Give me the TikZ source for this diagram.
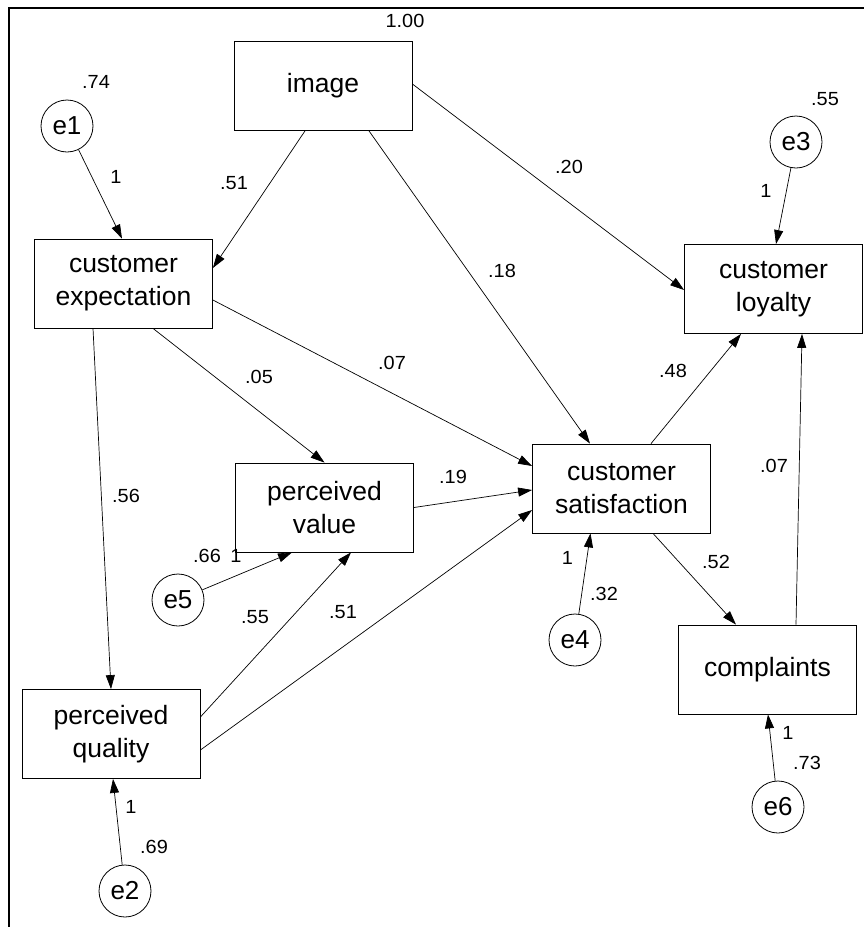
\documentclass[tikz,border=0pt]{standalone}
\usepackage{fontspec}
\setmainfont{Liberation Sans}
\newfontfamily\lblfont[FakeStretch=1.05]{Liberation Sans}
\usetikzlibrary{arrows.meta,calc}
\begin{document}
\begin{tikzpicture}[x=1pt,y=-1pt,
  var/.style={draw,line width=0.8pt,minimum width=178pt,minimum height=89pt,align=center,
              font=\fontsize{26.5}{33}\selectfont,inner sep=0pt},
  err/.style={draw,circle,line width=0.8pt,minimum size=52pt,inner sep=0pt,
              font=\fontsize{26}{30}\selectfont},
  conn/.style={line width=0.7pt,-{Triangle[length=14pt,width=9pt]}},
  lbl/.style={font=\lblfont\fontsize{19}{22}\selectfont,inner sep=0pt}]
\useasboundingbox (0,0) rectangle (864,927);
\draw[line width=1.6pt] (9,927) -- (9,8) -- (864,8);

% observed / latent boxes
\node[var] (img) at (323,86) {image};
\node[var] (exp) at (123.5,283.5) {customer\\expectation};
\node[var] (loy) at (773.5,289) {customer\\loyalty};
\node[var] (pv)  at (324.5,507.5) {perceived\\value};
\node[var] (cs)  at (621.5,488.5) {customer\\satisfaction};
\node[var] (cmp) at (767.5,669.5) {complaints};
\node[var] (pq)  at (111,734) {perceived\\quality};

% error terms
\node[err] (e1) at (67,126) {e1};
\node[err] (e3) at (796,142) {e3};
\node[err] (e5) at (178,600) {e5};
\node[err] (e4) at (575,640) {e4};
\node[err] (e6) at (778,807) {e6};
\node[err] (e2) at (125,891) {e2};

% connectors
\draw[conn] (e1) -- ([xshift=-1.5pt]exp.north);
\draw[conn] ([xshift=-18pt]img.south) -- ([yshift=15.5pt]exp.east);
\draw[conn] ([xshift=46pt]img.south) -- ([xshift=-31.5pt]cs.north);
\draw[conn] ([yshift=2pt]img.east) -- ([yshift=-1pt]loy.west);
\draw[conn] (e3) -- ([xshift=2.5pt]loy.north);
\draw[conn] ([xshift=-30.5pt]exp.south) -- (pq.north);
\draw[conn] ([xshift=29.5pt]exp.south) -- (pv.north);
\draw[conn] ([yshift=-16.5pt]exp.east) -- ([yshift=22.5pt]cs.west);
\draw[conn] (pv.east) -- ([yshift=-1.5pt]cs.west);
\draw[conn] ([xshift=29.5pt]cs.north) -- ([xshift=-32.5pt]loy.south);
\draw[conn] ([xshift=28.5pt]cmp.north) -- ([xshift=28.5pt]loy.south);
\draw[conn] ([xshift=31.5pt]cs.south) -- ([xshift=-31.5pt]cmp.north);
\draw[conn] (e4) -- ([xshift=-31pt]cs.south);
\draw[conn] (e5) -- ([xshift=-32.5pt]pv.south);
\draw[conn] ([yshift=17pt]pq.east) -- ([xshift=26.5pt]pv.south);
\draw[conn] ([yshift=-16pt]pq.east) -- ([yshift=-21.5pt]cs.west);
\draw[conn] (e2) -- ([xshift=2pt]pq.south);
\draw[conn] (e6) -- ([xshift=0.5pt]cmp.south);

% labels
\node[lbl] (l100) at (405,21) {1.00};
\node[lbl] (l74) at (96,82) {.74};
\node[lbl] (l55a) at (825,99) {.55};
\node[lbl] (l1a) at (116,177) {1};
\node[lbl] (l51a) at (234,183) {.51};
\node[lbl] (l20) at (569,167) {.20};
\node[lbl] (l1b) at (766,191) {1};
\node[lbl] (l18) at (502,271) {.18};
\node[lbl] (l07a) at (392,363) {.07};
\node[lbl] (l05) at (259,377) {.05};
\node[lbl] (l48) at (673,371) {.48};
\node[lbl] (l07b) at (774,466) {.07};
\node[lbl] (l19) at (453,477) {.19};
\node[lbl] (l56) at (126,496) {.56};
\node[lbl] (l66) at (207,556) {.66};
\node[lbl] (l1c) at (236,556) {1};
\node[lbl] (l1d) at (567.5,558) {1};
\node[lbl] (l52) at (716,562) {.52};
\node[lbl] (l32) at (604,594) {.32};
\node[lbl] (l55b) at (255,617) {.55};
\node[lbl] (l51b) at (343,612) {.51};
\node[lbl] (l1e) at (788,733) {1};
\node[lbl] (l73) at (807,763) {.73};
\node[lbl] (l1f) at (131,807) {1};
\node[lbl] (l69) at (154,847) {.69};
\end{tikzpicture}
\end{document}
